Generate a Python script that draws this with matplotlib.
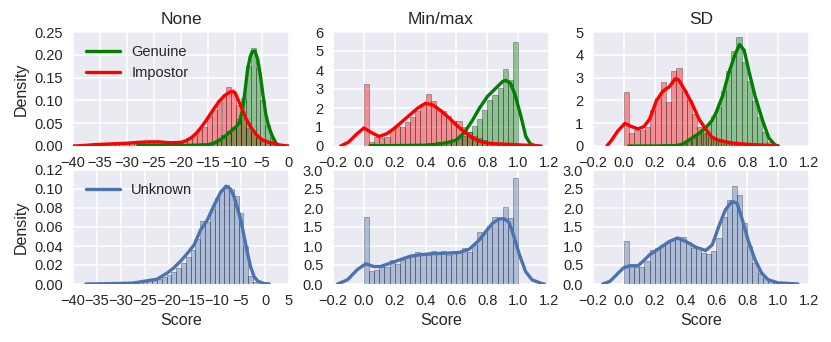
import numpy as np
import matplotlib
matplotlib.use("Agg")
import matplotlib.pyplot as plt
from matplotlib.ticker import MultipleLocator

# =========================
# data
# =========================
# --- None (raw scores), top row: genuine vs impostor
none_imp_edges_start, none_imp_width = -36.8, 0.9
none_imp_hist = [0.002, 0.003, 0.004, 0.005, 0.005, 0.006, 0.006, 0.007, 0.008, 0.008,
                 0.009, 0.009, 0.010, 0.009, 0.008, 0.007, 0.007, 0.007, 0.009, 0.012,
                 0.018, 0.025, 0.038, 0.041, 0.065, 0.080, 0.100, 0.110, 0.130, 0.116,
                 0.090, 0.061, 0.040, 0.028, 0.018, 0.012, 0.008, 0.005, 0.003, 0.002]
none_gen_edges_start, none_gen_width = -27.8, 0.9
none_gen_hist = [0.001, 0.001, 0.001, 0.001, 0.001, 0.001, 0.001, 0.001, 0.001, 0.002,
                 0.002, 0.002, 0.002, 0.003, 0.005, 0.008, 0.015, 0.024, 0.033, 0.042,
                 0.060, 0.105, 0.175, 0.215, 0.170, 0.100, 0.045, 0.018, 0.005, 0.001]
none_gen_kde_x = [-28, -24, -20, -17, -15, -14, -13, -12, -11, -10, -9.2, -8.6, -8.1, -7.7,
                  -7.2, -6.8, -6.3, -5.8, -5.3, -4.8, -4.3, -3.8, -3.3, -2.8, -2.4, -1.9]
none_gen_kde_y = [0.001, 0.001, 0.001, 0.002, 0.003, 0.006, 0.012, 0.020, 0.030, 0.040,
                  0.050, 0.080, 0.125, 0.165, 0.195, 0.207, 0.208, 0.190, 0.155, 0.110,
                  0.070, 0.045, 0.028, 0.014, 0.006, 0.001]
none_imp_kde_x = [-40, -38, -36, -34, -32, -30, -28, -26, -24, -22, -20, -19, -18, -17, -16,
                  -15, -14, -13, -12, -11, -10.4, -10, -9, -8, -7, -6, -5, -4, -3, -2, -1, 0]
none_imp_kde_y = [0.0, 0.001, 0.003, 0.004, 0.005, 0.006, 0.008, 0.009, 0.009, 0.007, 0.008,
                  0.012, 0.019, 0.030, 0.045, 0.062, 0.080, 0.097, 0.110, 0.118, 0.120, 0.117,
                  0.090, 0.061, 0.040, 0.024, 0.014, 0.009, 0.006, 0.003, 0.001, 0.0]

# --- Min/max normalised, top row
mm_width = 1 / 30
mm_imp_hist = [3.25, 0.20, 0.45, 0.40, 0.45, 0.85, 1.05, 1.00, 1.25, 1.50,
               1.85, 2.20, 2.75, 2.35, 1.95, 1.85, 1.60, 1.30, 1.30, 1.00,
               0.75, 0.55, 0.40, 0.30, 0.20, 0.12, 0.10, 0.10, 0.08, 0.12]
mm_gen_hist = [0.0, 0.01, 0.02, 0.02, 0.03, 0.03, 0.04, 0.05, 0.06, 0.08,
               0.10, 0.12, 0.15, 0.17, 0.20, 0.20, 0.25, 0.30, 0.40, 0.50,
               0.75, 1.05, 1.40, 1.90, 2.40, 2.70, 3.05, 4.05, 3.45, 5.50]
mm_gen_kde_x = [0.04, 0.2, 0.4, 0.45, 0.5, 0.55, 0.6, 0.65, 0.7, 0.75, 0.8, 0.85, 0.9,
                0.92, 0.95, 0.98, 1.02, 1.05, 1.08, 1.12]
mm_gen_kde_y = [0.02, 0.02, 0.04, 0.07, 0.12, 0.20, 0.32, 0.70, 1.30, 2.00, 2.60, 3.00,
                3.40, 3.45, 3.30, 2.70, 1.50, 0.50, 0.10, 0.0]
mm_imp_kde_x = [-0.15, -0.1, -0.05, 0.0, 0.05, 0.1, 0.15, 0.2, 0.25, 0.3, 0.35, 0.4, 0.45,
                0.5, 0.55, 0.6, 0.65, 0.7, 0.75, 0.8, 0.85, 0.9, 0.95, 1.0, 1.05, 1.1, 1.15]
mm_imp_kde_y = [0.0, 0.20, 0.60, 0.95, 0.70, 0.50, 0.65, 0.95, 1.30, 1.65, 2.00, 2.25, 2.15,
                1.85, 1.50, 1.10, 0.75, 0.45, 0.25, 0.15, 0.12, 0.10, 0.08, 0.06, 0.04,
                0.02, 0.0]

# --- SD normalised, top row
sd_imp_width = 0.034
sd_imp_hist = [2.35, 0.55, 0.70, 0.68, 0.85, 1.60, 2.10, 2.80, 1.95, 3.30,
               3.40, 2.40, 2.00, 1.40, 0.85, 0.55, 0.40, 0.30, 0.25, 0.18,
               0.15, 0.12, 0.10, 0.08, 0.06, 0.05, 0.03, 0.02, 0.01]
sd_gen_start, sd_gen_width = 0.015, 0.0325
sd_gen_hist = [0.0, 0.0, 0.0, 0.01, 0.01, 0.01, 0.01, 0.02, 0.02, 0.03,
               0.05, 0.10, 0.20, 0.35, 0.56, 0.75, 0.96, 1.30, 1.70, 2.40,
               3.27, 4.15, 4.80, 3.70, 2.83, 1.97, 1.25, 0.60, 0.17, 0.03]
sd_gen_kde_x = [0.03, 0.2, 0.34, 0.38, 0.42, 0.487, 0.53, 0.57, 0.6, 0.64, 0.68, 0.72,
                0.75, 0.78, 0.81, 0.85, 0.9, 0.94, 0.98, 1.0]
sd_gen_kde_y = [0.0, 0.0, 0.02, 0.08, 0.25, 0.55, 0.80, 1.10, 1.50, 2.20, 3.20, 4.00,
                4.45, 4.20, 3.30, 2.20, 1.10, 0.35, 0.05, 0.0]
sd_imp_kde_x = [-0.11, -0.08, -0.04, 0.006, 0.05, 0.092, 0.13, 0.167, 0.21, 0.252, 0.295,
                0.333, 0.355, 0.40, 0.444, 0.487, 0.53, 0.57, 0.615, 0.70, 0.808, 0.9, 1.0]
sd_imp_kde_y = [0.0, 0.25, 0.65, 0.99, 0.85, 0.75, 0.85, 1.18, 1.97, 2.40, 2.60, 2.95,
                2.90, 2.40, 1.83, 1.18, 0.75, 0.39, 0.25, 0.13, 0.07, 0.04, 0.0]

# --- Unknown, bottom row
unk_none_start, unk_none_width = -37.5, 1.0
unk_none_hist = [0.0005, 0.0005, 0.0005, 0.0005, 0.0005, 0.0005, 0.001, 0.001, 0.001, 0.001,
                 0.002, 0.002, 0.003, 0.003, 0.004, 0.005, 0.007, 0.010, 0.013, 0.017,
                 0.022, 0.028, 0.036, 0.047, 0.066, 0.065, 0.079, 0.091, 0.098, 0.104,
                 0.100, 0.093, 0.075, 0.040, 0.008, 0.002, 0.0005, 0.0002]
unk_none_kde_x = [-37.3, -33, -30, -27.4, -25, -22.5, -20.4, -19, -17.6, -16.2, -14.8, -13.4,
                  -12, -10.6, -9.2, -8.05, -7.2, -6.45, -5.75, -5.05, -4.35, -3.65, -3,
                  -2.3, -1.5, -0.2, 0.9]
unk_none_kde_y = [0.0, 0.0003, 0.0006, 0.001, 0.003, 0.005, 0.0115, 0.017, 0.024, 0.032,
                  0.041, 0.057, 0.0675, 0.083, 0.097, 0.103, 0.100, 0.092, 0.080, 0.0675,
                  0.050, 0.0325, 0.018, 0.008, 0.003, 0.0005, 0.0]

unk_mm_hist = [1.76, 0.35, 0.38, 0.45, 0.45, 0.64, 0.53, 0.64, 0.70, 0.77,
               0.83, 0.77, 0.77, 0.88, 0.81, 0.88, 0.76, 0.86, 0.86, 0.94,
               0.83, 1.03, 1.37, 1.34, 1.53, 1.76, 1.72, 2.02, 1.73, 2.78]
unk_mm_kde_x = [-0.17, -0.106, -0.042, 0.012, 0.065, 0.108, 0.172, 0.236, 0.3, 0.364, 0.45,
                0.535, 0.62, 0.685, 0.749, 0.79, 0.834, 0.877, 0.909, 0.941, 0.973, 1.005,
                1.048, 1.09, 1.155, 1.17]
unk_mm_kde_y = [0.0, 0.11, 0.38, 0.53, 0.46, 0.46, 0.55, 0.64, 0.73, 0.77, 0.80, 0.81, 0.83,
                0.92, 1.16, 1.38, 1.60, 1.71, 1.72, 1.62, 1.25, 0.81, 0.33, 0.11, 0.01, 0.0]

unk_sd_hist = [1.12, 0.48, 0.44, 0.46, 0.60, 0.90, 0.95, 1.03, 1.10, 1.16,
               1.20, 1.25, 1.10, 0.95, 0.97, 0.82, 0.78, 0.86, 1.21, 1.76,
               2.22, 2.57, 2.35, 1.60, 1.00, 0.55, 0.30, 0.15, 0.08, 0.03]
unk_sd_kde_x = [-0.137, -0.09, -0.047, -0.004, 0.038, 0.092, 0.135, 0.167, 0.23, 0.295, 0.348,
                0.402, 0.466, 0.53, 0.573, 0.615, 0.658, 0.70, 0.733, 0.765, 0.808, 0.85,
                0.893, 0.936, 1.0, 1.128]
unk_sd_kde_y = [0.0, 0.07, 0.245, 0.42, 0.48, 0.48, 0.64, 0.77, 0.94, 1.12, 1.21, 1.12, 0.97,
                0.88, 1.03, 1.51, 1.95, 2.17, 2.13, 1.73, 1.12, 0.64, 0.29, 0.11, 0.03, 0.0]

GREEN = "green"
RED = "red"
BLUE = "#4C72B0"

# =========================
# style (seaborn darkgrid look)
# =========================
plt.rcParams.update({
    "font.family": ["Liberation Sans", "DejaVu Sans"],
    "font.size": 10.5,
    "axes.facecolor": "#EAEAF2",
    "axes.edgecolor": "white",
    "axes.linewidth": 0,
    "axes.grid": True,
    "grid.color": "white",
    "grid.linewidth": 1.1,
    "xtick.major.size": 0,
    "ytick.major.size": 0,
    "xtick.major.pad": 7,
    "ytick.major.pad": 7,
    "text.color": "#262626",
    "axes.labelcolor": "#262626",
    "xtick.color": "#262626",
    "ytick.color": "#262626",
    "xtick.labelsize": 10.5,
    "ytick.labelsize": 10.5,
    "lines.solid_capstyle": "round",
})


def hist(ax, start, width, heights, color):
    edges = start + width * np.arange(len(heights))
    ax.bar(edges, heights, width=width, align="edge", color=color, alpha=0.4,
           edgecolor="black", linewidth=0.5)


def style(ax, xlim, xstep, ylim, ystep):
    ax.set_xlim(*xlim)
    ax.set_ylim(*ylim)
    ax.xaxis.set_major_locator(MultipleLocator(xstep))
    ax.yaxis.set_major_locator(MultipleLocator(ystep))
    ax.set_axisbelow(True)
    for s in ax.spines.values():
        s.set_visible(False)


fig = plt.figure(figsize=(8.31, 3.42), dpi=100)
W, H = 831, 342
lefts = [73, 333, 593]
aw, ah = 216, 114
tops = [32, 170]
axes = [[fig.add_axes([l / W, 1 - (t + ah) / H, aw / W, ah / H]) for l in lefts] for t in tops]
LW = 2.4

# top row
ax = axes[0][0]
hist(ax, none_imp_edges_start, none_imp_width, none_imp_hist, RED)
hist(ax, none_gen_edges_start, none_gen_width, none_gen_hist, GREEN)
ax.plot(none_gen_kde_x, none_gen_kde_y, color=GREEN, lw=LW, label="Genuine")
ax.plot(none_imp_kde_x, none_imp_kde_y, color=RED, lw=LW, label="Impostor")
style(ax, (-40, 0), 5, (0, 0.25), 0.05)
ax.set_title("None", fontsize=12.5)
ax.set_ylabel("Density", fontsize=11.5)
ax.legend(loc="upper left", frameon=False, fontsize=10.5, handlelength=2.3)

ax = axes[0][1]
hist(ax, 0.0, mm_width, mm_imp_hist, RED)
hist(ax, 0.0, mm_width, mm_gen_hist, GREEN)
ax.plot(mm_gen_kde_x, mm_gen_kde_y, color=GREEN, lw=LW)
ax.plot(mm_imp_kde_x, mm_imp_kde_y, color=RED, lw=LW)
style(ax, (-0.2, 1.2), 0.2, (0, 6), 1)
ax.set_title("Min/max", fontsize=12.5)

ax = axes[0][2]
hist(ax, 0.0, sd_imp_width, sd_imp_hist, RED)
hist(ax, sd_gen_start, sd_gen_width, sd_gen_hist, GREEN)
ax.plot(sd_gen_kde_x, sd_gen_kde_y, color=GREEN, lw=LW)
ax.plot(sd_imp_kde_x, sd_imp_kde_y, color=RED, lw=LW)
style(ax, (-0.2, 1.2), 0.2, (0, 5), 1)
ax.set_title("SD", fontsize=12.5)

# bottom row
ax = axes[1][0]
hist(ax, unk_none_start, unk_none_width, unk_none_hist, BLUE)
ax.plot(unk_none_kde_x, unk_none_kde_y, color=BLUE, lw=LW, label="Unknown")
style(ax, (-40, 5), 5, (0, 0.12), 0.02)
ax.set_ylabel("Density", fontsize=11.5)
ax.set_xlabel("Score", fontsize=11.5)
ax.legend(loc="upper left", frameon=False, fontsize=10.5, handlelength=2.3)

ax = axes[1][1]
hist(ax, 0.0, mm_width, unk_mm_hist, BLUE)
ax.plot(unk_mm_kde_x, unk_mm_kde_y, color=BLUE, lw=LW)
style(ax, (-0.2, 1.2), 0.2, (0, 3), 0.5)
ax.set_xlabel("Score", fontsize=11.5)

ax = axes[1][2]
hist(ax, 0.0, 1 / 30, unk_sd_hist, BLUE)
ax.plot(unk_sd_kde_x, unk_sd_kde_y, color=BLUE, lw=LW)
style(ax, (-0.2, 1.2), 0.2, (0, 3), 0.5)
ax.set_xlabel("Score", fontsize=11.5)

fig.savefig("out.png", dpi=100)
